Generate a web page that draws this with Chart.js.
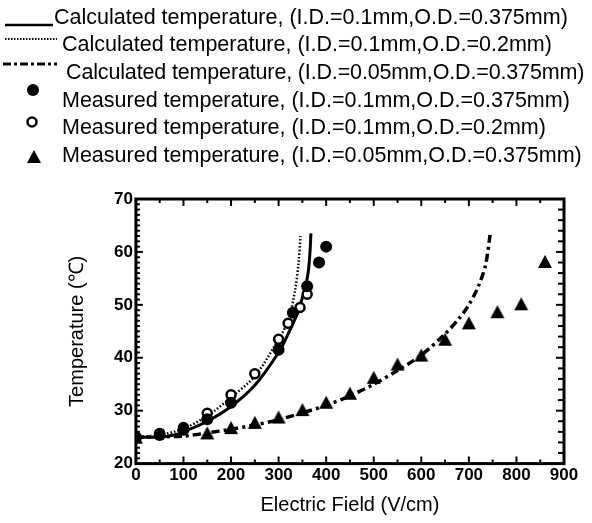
<!DOCTYPE html>
<html>
<head>
<meta charset="utf-8">
<script src="https://cdn.jsdelivr.net/npm/chart.js@4"></script>
<style>
    html, body { margin: 0; padding: 0; background: #fff; }
    #wrap { position: relative; width: 592px; height: 523px; overflow: hidden; }
    #chart { position: absolute; left: 0; top: 0; }
    .leg { position: absolute; font-family: 'Liberation Sans', Arial, sans-serif; font-size: 21.5px; color: #000; white-space: nowrap; line-height: 1; }
    svg.sym { position: absolute; left: 0; top: 0; }
    #err { position: absolute; left: 0; bottom: 0; color: red; font: 12px sans-serif; }
</style>
</head>
<body>
<div id="wrap">
    <canvas id="chart" width="592" height="523"></canvas>
    <svg class="sym" width="70" height="175">
        <line x1="5" y1="25" x2="53" y2="25" stroke="#000" stroke-width="2.5"/>
        <line x1="5" y1="39" x2="57" y2="39" stroke="#000" stroke-width="2" stroke-dasharray="1.5,1.5"/>
        <line x1="3" y1="64" x2="57" y2="64" stroke="#000" stroke-width="3" stroke-dasharray="8,3,3,3"/>
        <circle cx="33" cy="90" r="6" fill="#000"/>
        <circle cx="32" cy="122" r="4.5" fill="#fff" stroke="#000" stroke-width="2.5"/>
        <polygon points="27,163 41,163 34,150" fill="#000"/>
    </svg>
    <div class="leg" style="left:54px; top:7px;">Calculated temperature, (I.D.=0.1mm,O.D.=0.375mm)</div>
    <div class="leg" style="left:62px; top:34px;">Calculated temperature, (I.D.=0.1mm,O.D.=0.2mm)</div>
    <div class="leg" style="left:66px; top:62px; letter-spacing:-0.15px;">Calculated temperature, (I.D.=0.05mm,O.D.=0.375mm)</div>
    <div class="leg" style="left:62px; top:90px;">Measured temperature, (I.D.=0.1mm,O.D.=0.375mm)</div>
    <div class="leg" style="left:62px; top:117px;">Measured temperature, (I.D.=0.1mm,O.D.=0.2mm)</div>
    <div class="leg" style="left:62px; top:145px;">Measured temperature, (I.D.=0.05mm,O.D.=0.375mm)</div>
    <div id="err"></div>
</div>
<script>
'use strict';

// Calculated curves (x = electric field V/cm, y = temperature C)
const calcA_x = [0, 50, 80, 100, 150, 200, 250, 300, 320, 340, 355, 362, 366, 368];
const calcA_y = [25, 25, 25.4, 26, 28, 30.8, 34.8, 41, 44.5, 48.5, 53, 56, 60, 63.5];

const calcB_x = [0, 50, 100, 150, 200, 250, 290, 320, 335, 342, 346];
const calcB_y = [25, 25.4, 26.6, 29, 32.5, 36.5, 42, 47, 53, 58, 63];

const calcC_x = [0, 100, 150, 200, 250, 300, 350, 400, 450, 500, 550, 600, 650, 680, 700, 720, 735, 745];
const calcC_y = [25, 25.2, 25.8, 26.5, 27.3, 28.3, 29.6, 31, 32.8, 35, 37.6, 40.5, 44.5, 47.5, 50, 53.5, 57.5, 63.5];

// Measured points
const measA_x = [0, 50, 100, 150, 200, 300, 330, 360, 385, 400];
const measA_y = [25, 25.4, 26.4, 28.4, 31.5, 41.5, 48.5, 53.5, 58, 61];

const measB_x = [0, 50, 100, 150, 200, 250, 300, 320, 345, 360];
const measB_y = [25, 25.7, 26.8, 29.5, 33, 37, 43.5, 46.5, 49.5, 52];

const measC_x = [0, 150, 200, 250, 300, 350, 400, 450, 500, 550, 600, 650, 700, 760, 810, 860];
const measC_y = [25, 25.8, 26.8, 27.8, 28.8, 30.2, 31.6, 33.3, 36.3, 38.8, 40.5, 43.5, 46.6, 48.7, 50.2, 58.2];

const xTicks = [0, 100, 200, 300, 400, 500, 600, 700, 800, 900];
const yTicks = [20, 30, 40, 50, 60, 70];

const pts = (xs, ys) => xs.map((x, i) => ({ x, y: ys[i] }));

function triangle() {
    const c = document.createElement('canvas');
    c.width = 16; c.height = 15;
    const g = c.getContext('2d');
    g.fillStyle = '#000';
    g.beginPath();
    g.moveTo(8, 1); g.lineTo(15, 14); g.lineTo(1, 14); g.closePath();
    g.fill();
    return c;
}

// frame and inward tick marks, placed through the chart scales
const framePlugin = {
    id: 'frameTicks',
    afterDatasetsDraw(chart) {
        try {
            const ctx = chart.ctx;
            const a = chart.chartArea;
            const xs = chart.scales.x, ys = chart.scales.y;
            ctx.save();
            ctx.strokeStyle = '#000';
            ctx.setLineDash([]);
            ctx.lineWidth = 2;
            for (let v = 50; v < 900; v += 50) {
                const px = xs.getPixelForValue(v);
                const len = v % 100 === 0 ? 7 : 4;
                ctx.beginPath();
                ctx.moveTo(px, a.bottom); ctx.lineTo(px, a.bottom - len);
                ctx.moveTo(px, a.top); ctx.lineTo(px, a.top + len);
                ctx.stroke();
            }
            for (let v = 21; v < 70; v += 1) {
                const py = ys.getPixelForValue(v);
                const len = v % 10 === 0 ? 7 : 4;
                ctx.beginPath();
                ctx.moveTo(a.left, py); ctx.lineTo(a.left + len, py);
                ctx.stroke();
                if (v % 2 === 0) {
                    ctx.beginPath();
                    ctx.moveTo(a.right, py); ctx.lineTo(a.right - (v % 10 === 0 ? 8 : 6), py);
                    ctx.stroke();
                }
            }
            ctx.lineWidth = 3;
            ctx.strokeRect(a.left, a.top, a.right - a.left, a.bottom - a.top);
            ctx.restore();
        } catch (e) {
            document.getElementById('err').textContent = String(e);
        }
    }
};

const lineStyle = {
    showLine: true, pointRadius: 0, fill: false, tension: 0.3, borderColor: '#000'
};

new Chart(document.getElementById('chart'), {
    type: 'scatter',
    data: {
        datasets: [
            { label: 'Measured A', data: pts(measA_x, measA_y), pointStyle: 'circle', pointRadius: 6,
              backgroundColor: '#000', borderColor: '#000', borderWidth: 0 },
            { label: 'Measured B', data: pts(measB_x, measB_y), pointStyle: 'circle', pointRadius: 4.5,
              backgroundColor: '#fff', borderColor: '#000', borderWidth: 2.5 },
            { label: 'Measured C', data: pts(measC_x, measC_y), pointStyle: triangle(),
              backgroundColor: '#000' },
            { ...lineStyle, label: 'Calc A', data: pts(calcA_x, calcA_y), borderWidth: 3 },
            { ...lineStyle, label: 'Calc B', data: pts(calcB_x, calcB_y), borderWidth: 2.5, borderDash: [1.5, 2] },
            { ...lineStyle, label: 'Calc C', data: pts(calcC_x, calcC_y), borderWidth: 3.5, borderDash: [8, 4, 3, 4] }
        ]
    },
    options: {
        responsive: false,
        animation: false,
        layout: { padding: { top: 199, right: 28, left: 61, bottom: 6 } },
        plugins: { legend: { display: false }, tooltip: { enabled: false } },
        scales: {
            x: {
                type: 'linear', min: 0, max: 900,
                afterBuildTicks: s => { s.ticks = xTicks.map(v => ({ value: v })); },
                ticks: { color: '#000', font: { family: 'Liberation Sans', size: 17, weight: 'bold' }, padding: 2 },
                grid: { display: false, drawTicks: false },
                border: { display: false },
                title: { display: true, text: 'Electric Field (V/cm)', color: '#000',
                         font: { family: 'Liberation Sans', size: 20 }, padding: { top: 5, bottom: 0 } }
            },
            y: {
                type: 'linear', min: 20, max: 70,
                afterBuildTicks: s => { s.ticks = yTicks.map(v => ({ value: v })); },
                ticks: { color: '#000', font: { family: 'Liberation Sans', size: 17, weight: 'bold' }, padding: 3 },
                grid: { display: false, drawTicks: false },
                border: { display: false },
                title: { display: true, text: 'Temperature (℃)', color: '#000',
                         font: { family: 'Liberation Sans', size: 20 }, padding: { top: 4, bottom: 22 } }
            }
        }
    },
    plugins: [framePlugin]
});
</script>
</body>
</html>
